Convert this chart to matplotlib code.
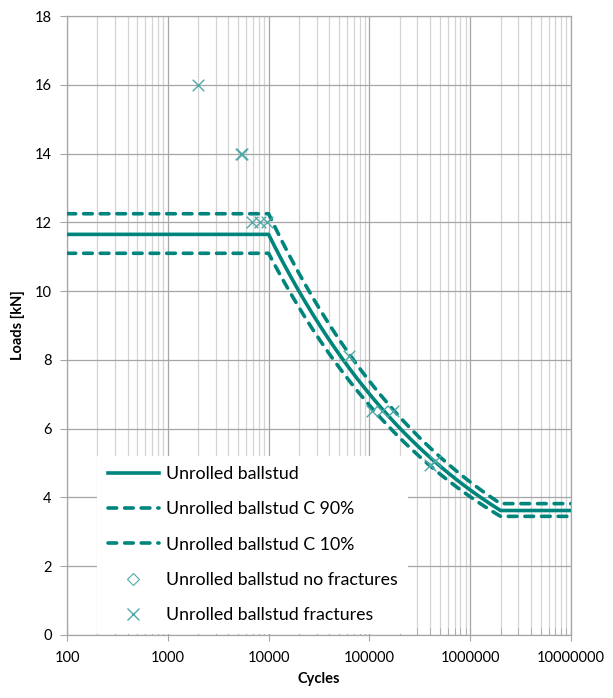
import numpy as np
import matplotlib
matplotlib.use("Agg")
import matplotlib.pyplot as plt
from matplotlib.lines import Line2D
from matplotlib.ticker import LogLocator, FixedLocator, NullFormatter

plt.rcParams['font.family'] = ['Lato', 'DejaVu Sans']

# S-N curve break points (cycles, load in kN)
knee_cycles = [100, 10000, 2000000, 10000000]
load_mean = [11.65, 11.65, 3.62, 3.62]
load_c90 = [12.25, 12.25, 3.82, 3.82]
load_c10 = [11.1, 11.1, 3.45, 3.45]

# test results
fract_cycles = [2000, 5300, 5500, 6800, 8200, 9600, 62800, 105000, 132000, 172000, 398000, 450000]
fract_loads = [16.0, 14.0, 14.0, 12.0, 12.0, 12.0, 8.1, 6.5, 6.5, 6.5, 4.95, 5.05]
nofract_cycles = []
nofract_loads = []

x_ticks = [100, 1000, 10000, 100000, 1000000, 10000000]
x_ticklabels = ['100', '1000', '10000', '100000', '1000000', '10000000']
y_ticks = [0, 2, 4, 6, 8, 10, 12, 14, 16, 18]

LINE = '#00857d'
MARK = '#4eaaa7'


def sn_curve(cycles, loads, n=200):
    """Piecewise power-law curve through break points (straight in log-log)."""
    lc = np.log10(cycles)
    ll = np.log10(loads)
    x = np.linspace(lc[0], lc[-1], n)
    x = np.union1d(x, lc)
    y = np.interp(x, lc, ll)
    return 10 ** x, 10 ** y


fig = plt.figure(figsize=(6.13, 6.98), dpi=100)
ax = fig.add_axes([67 / 613, 1 - 635 / 698, 504 / 613, 619 / 698])
ax.set_xscale('log')
ax.set_xlim(100, 1e7)
ax.set_ylim(0, 18)

dash = dict(dashes=(2.4, 2.2), dash_capstyle='round', lw=2.6, color=LINE)
cx, cy = sn_curve(knee_cycles, load_mean)
ax.plot(cx, cy, color=LINE, lw=2.6, solid_capstyle='butt', zorder=3,
        label='Unrolled ballstud')
cx, cy = sn_curve(knee_cycles, load_c90)
ax.plot(cx, cy, zorder=3, label='Unrolled ballstud C 90%', **dash)
cx, cy = sn_curve(knee_cycles, load_c10)
ax.plot(cx, cy, zorder=3, label='Unrolled ballstud C 10%', **dash)
ax.scatter(nofract_cycles, nofract_loads, marker='D', s=40, facecolors='none',
           edgecolors=MARK, linewidths=0.8, zorder=4,
           label='Unrolled ballstud no fractures')
ax.scatter(fract_cycles, fract_loads, marker='x', s=70, color=MARK,
           linewidths=1.0, zorder=4, label='Unrolled ballstud fractures')

# grid
ax.xaxis.set_major_locator(FixedLocator(x_ticks))
ax.set_xticklabels(x_ticklabels)
ax.xaxis.set_minor_locator(LogLocator(base=10, subs=np.arange(2, 10)))
ax.xaxis.set_minor_formatter(NullFormatter())
ax.set_yticks(y_ticks)
ax.grid(which='major', axis='both', color='#a6a6a6', lw=0.9, zorder=0)
ax.grid(which='minor', axis='x', color='#d4d4d4', lw=0.9, zorder=0)
ax.set_axisbelow(True)

for side in ['left', 'bottom', 'top', 'right']:
    ax.spines[side].set_color('#a6a6a6')
    ax.spines[side].set_linewidth(0.9)

ax.tick_params(axis='y', which='major', direction='out', length=5, color='#a6a6a6',
               labelsize=10.5, pad=6)
ax.tick_params(axis='x', which='major', direction='inout', length=9, color='#a6a6a6',
               labelsize=10.5, pad=7)
ax.tick_params(axis='x', which='minor', direction='in', length=5, color='#a6a6a6')

ax.set_xlabel('Cycles', fontsize=10.5, fontweight='bold', labelpad=5)
ax.set_ylabel('Loads [kN]', fontsize=10.5, fontweight='bold', labelpad=7)

handles = [
    Line2D([], [], color=LINE, lw=2.6),
    Line2D([], [], **dash),
    Line2D([], [], **dash),
    Line2D([], [], marker='D', ls='none', markersize=6, markerfacecolor='none',
           markeredgecolor=MARK, markeredgewidth=0.8),
    Line2D([], [], marker='x', ls='none', markersize=9, color=MARK,
           markeredgewidth=1.0),
]
labels = ['Unrolled ballstud', 'Unrolled ballstud C 90%', 'Unrolled ballstud C 10%',
          'Unrolled ballstud no fractures', 'Unrolled ballstud fractures']
leg = ax.legend(handles, labels, loc='lower left', bbox_to_anchor=(0.06, 0.002),
                frameon=True, fancybox=False, framealpha=1, edgecolor='white',
                fontsize=12.8, handlelength=2.85, handletextpad=0.4,
                labelspacing=1.08, borderpad=0.6, borderaxespad=0)
leg.get_frame().set_linewidth(0)
leg.set_zorder(5)

fig.savefig('out.png', dpi=100)
